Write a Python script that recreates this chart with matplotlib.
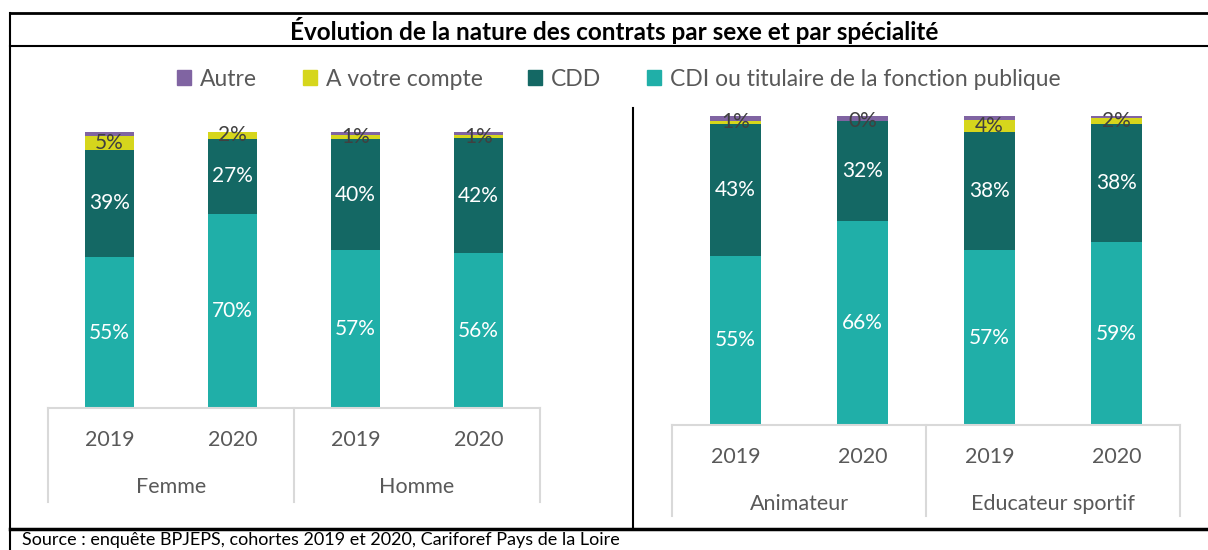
import matplotlib
matplotlib.use("Agg")
import matplotlib.pyplot as plt
import numpy as np
from matplotlib.patches import Rectangle
from matplotlib.lines import Line2D

plt.rcParams['font.family'] = ['Lato', 'DejaVu Sans']

# data (share of each contract type, %)
years = ['2019', '2020', '2019', '2020']
groups_sexe = ['Femme', 'Homme']
groups_spec = ['Animateur', 'Educateur sportif']
series = ['Autre', 'A votre compte', 'CDD', 'CDI ou titulaire de la fonction publique']

sexe_cdi = [54.7, 70.3, 57.2, 56.1]
sexe_cdd = [38.8, 27.3, 40.2, 41.6]
sexe_compte = [5.1, 2.4, 1.4, 1.3]
sexe_autre = [1.4, 0.0, 1.2, 1.0]

spec_cdi = [54.7, 66.0, 56.6, 59.2]
spec_cdd = [42.6, 32.4, 38.2, 38.2]
spec_compte = [1.2, 0.0, 3.9, 2.0]
spec_autre = [1.5, 1.6, 1.3, 0.6]

colors = {'CDI': '#20AFA8', 'CDD': '#146864', 'compte': '#D6D61C', 'autre': '#8064A2'}
grey = '#595959'

W, H = 1208, 550
fig = plt.figure(figsize=(W / 100, H / 100), dpi=100)


def px_axes(x0, x1, y0, y1):
    # y0 = top pixel, y1 = bottom pixel
    return fig.add_axes([x0 / W, 1 - y1 / H, (x1 - x0) / W, (y1 - y0) / H])


def draw_panel(ax, cdi, cdd, compte, autre, groups, depth_px, height_px):
    x = np.arange(4)
    w = 0.4
    b1 = ax.bar(x, cdi, w, color=colors['CDI'])
    b2 = ax.bar(x, cdd, w, bottom=cdi, color=colors['CDD'])
    base3 = np.array(cdi) + np.array(cdd)
    b3 = ax.bar(x, compte, w, bottom=base3, color=colors['compte'])
    ax.bar(x, autre, w, bottom=base3 + np.array(compte), color=colors['autre'])
    for bars, vals, col in [(b1, cdi, 'white'), (b2, cdd, 'white'), (b3, compte, '#404040')]:
        for rect, v in zip(bars, vals):
            yc = rect.get_y() + rect.get_height() / 2
            ax.text(rect.get_x() + rect.get_width() / 2, yc, f"{round(v)}%",
                    ha='center', va='center', color=col, fontsize=15)
    ax.set_xlim(-0.5, 3.5)
    ax.set_ylim(0, 100)
    ax.axis('off')
    tr = ax.get_xaxis_transform()
    d = -depth_px / height_px
    ax.add_line(Line2D([-0.5, 3.5], [0, 0], transform=tr, color='#D9D9D9', lw=1.5, clip_on=False))
    for xs in [-0.5, 1.5, 3.5]:
        ax.add_line(Line2D([xs, xs], [0, d], transform=tr, color='#D9D9D9', lw=1.5, clip_on=False))
    for i, yl in enumerate(years):
        ax.annotate(yl, (i, 0), xycoords=tr, xytext=(0, -32), textcoords='offset pixels',
                    ha='center', va='center', fontsize=15.5, color=grey)
    for j, g in enumerate(groups):
        ax.annotate(g, (2 * j + 0.5, 0), xycoords=tr, xytext=(0, -79), textcoords='offset pixels',
                    ha='center', va='center', fontsize=15.5, color=grey)


ax1 = px_axes(48, 540, 132, 408)
draw_panel(ax1, sexe_cdi, sexe_cdd, sexe_compte, sexe_autre, groups_sexe, 94, 276)
ax2 = px_axes(672, 1180, 116, 425)
draw_panel(ax2, spec_cdi, spec_cdd, spec_compte, spec_autre, groups_spec, 91, 309)

# legend
handles = [Rectangle((0, 0), 1, 1, color=colors[k]) for k in ['autre', 'compte', 'CDD', 'CDI']]
fig.legend(handles, series, loc='center', bbox_to_anchor=(619 / W, 1 - 79 / H), ncol=4,
           frameon=False, fontsize=16.5, labelcolor=grey, handlelength=0.6, handleheight=0.6,
           handletextpad=0.4, columnspacing=2.0)

# table frame
def fline(xs, ys, lw):
    fig.add_artist(Line2D([x / W for x in xs], [1 - y / H for y in ys], color='black', lw=lw))

fline([10, W], [13, 13], 2)
fline([10, W], [46, 46], 1.5)
fline([10, 10], [13, H], 1.5)
fline([10, W], [529, 529], 2.5)
fline([633, 633], [108, 529], 1.5)

fig.text(614 / W, 1 - 30 / H, "Évolution de la nature des contrats par sexe et par spécialité",
         ha='center', va='center', fontsize=17.5, fontweight='bold', color='black')
fig.text(22 / W, 1 - 540 / H, "Source : enquête BPJEPS, cohortes 2019 et 2020, Cariforef Pays de la Loire",
         ha='left', va='center', fontsize=13, color='black')

fig.savefig('out.png', dpi=100)
